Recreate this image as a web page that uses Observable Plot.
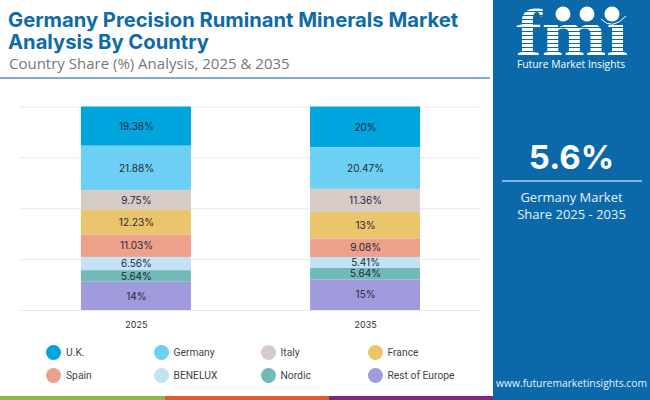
<!DOCTYPE html>
<html>
<head>
<meta charset="utf-8">
<script src="https://cdn.jsdelivr.net/npm/d3@7"></script>
<script src="https://cdn.jsdelivr.net/npm/@observablehq/plot@0.6"></script>
<style>
  html, body { margin: 0; padding: 0; background: #fff; }
  #page { position: relative; width: 650px; height: 400px; overflow: hidden; font-family: Inter, sans-serif; }
  #title { position: absolute; left: 8px; top: 9px; font: 700 20.2px/22px Inter, sans-serif; color: #0f6aa8; white-space: nowrap; }
  #subtitle { position: absolute; left: 9px; top: 53px; font: 400 15px/20px "Open Sans", sans-serif; color: #777; white-space: nowrap; }
  #rule { position: absolute; left: 0; top: 77px; width: 490px; height: 2px; background: #82abcb; }
  #chart { position: absolute; left: 0; top: 90px; }
  #legend { position: absolute; left: 0; top: 0; }
  .key { position: absolute; font: 400 10.3px/14px Roboto, sans-serif; color: #444; white-space: nowrap; }
  .dot { position: absolute; width: 15px; height: 15px; border-radius: 50%; }
  #panel { position: absolute; left: 493px; top: 0; width: 157px; height: 400px; background: #0b69aa; color: #fff; text-align: center; }
  #logo { position: absolute; left: 0; top: 0; }
  #big { position: absolute; left: 0; width: 157px; top: 135px; font: 700 33px/44px Inter, sans-serif; }
  #line { position: absolute; left: 9px; width: 140px; top: 180px; height: 2px; background: #7fb6de; }
  #sub { position: absolute; left: 0; width: 157px; top: 189px; font: 400 13px/17px "Open Sans", sans-serif; color: #e8f2f9; }
  #url { position: absolute; left: 0; width: 157px; top: 376px; font: 400 10.3px/14px "Open Sans", sans-serif; color: #e8f2f9; }
  .strip { position: absolute; top: 396px; height: 4px; width: 165px; }
</style>
</head>
<body>
<div id="page">
  <div id="title">Germany Precision Ruminant Minerals Market<br>Analysis By Country</div>
  <div id="subtitle">Country Share (%) Analysis, 2025 &amp; 2035</div>
  <div id="rule"></div>
  <div id="chart"></div>
  <div id="legend"></div>
  <div class="strip" style="left:0;background:#8cbb3f"></div>
  <div class="strip" style="left:165px;background:#e35a27"></div>
  <div class="strip" style="left:329px;background:#7f2a80"></div>
  <div id="panel">
    <svg id="logo" width="157" height="90">
      <defs>
        <pattern id="stripes" width="4" height="4" patternUnits="userSpaceOnUse">
          <rect width="4" height="3" fill="#fff"></rect>
        </pattern>
      </defs>
      <text x="79" y="55" text-anchor="middle" font-family="Liberation Serif" font-weight="700" font-size="66" textLength="112" lengthAdjust="spacingAndGlyphs" fill="url(#stripes)">fmi</text>
      <!-- hides the dot of the i, the globes stand in for it -->
      <rect x="50" y="0" width="107" height="25" fill="#0b69aa"></rect>
      <circle cx="70" cy="14" r="7.5" fill="#fff"></circle>
      <circle cx="94" cy="14" r="7.5" fill="#fff"></circle>
      <circle cx="119" cy="14" r="7.5" fill="#fff"></circle>
      <path d="M108 19 Q119 31 133 16" fill="none" stroke="#fff" stroke-width="1"></path>
      <text x="78" y="68" text-anchor="middle" font-family="Open Sans" font-size="10.3" fill="#fff">Future Market Insights</text>
    </svg>
    <div id="big">5.6%</div>
    <div id="line"></div>
    <div id="sub">Germany Market<br>Share 2025 - 2035</div>
    <div id="url">www.futuremarketinsights.com</div>
  </div>
</div>
<script>
const years = ["2025", "2035"];
const countries = ["U.K.", "Germany", "Italy", "France", "Spain", "BENELUX", "Nordic", "Rest of Europe"];
const colors = ["#00a5de", "#6dcff3", "#d6cbc7", "#ebc56c", "#eda08a", "#c3e3f5", "#71bab8", "#a09bdd"];
const share2025 = [19.38, 21.88, 9.75, 12.23, 11.03, 6.56, 5.64, 14];
const share2035 = [20, 20.47, 11.36, 13, 9.08, 5.41, 5.64, 15];
const gridTicks = [0, 0.25, 0.5, 0.75, 1];

const rows = [];
countries.forEach((c, i) => {
  rows.push({year: years[0], country: c, share: share2025[i], order: i});
  rows.push({year: years[1], country: c, share: share2035[i], order: i});
});

const stack = {
  x: "year",
  y: "share",
  z: "country",
  offset: "normalize",
  order: (d) => -d.order
};

const p = Plot.plot({
  width: 490,
  height: 240,
  marginTop: 16.5,
  marginBottom: 20,
  marginLeft: 20,
  marginRight: 9,
  style: {background: "transparent", fontFamily: "Inter, sans-serif"},
  x: {domain: years, paddingInner: 0.52, paddingOuter: 0.266, round: false, label: null},
  y: {domain: [0, 1], axis: null},
  color: {domain: countries, range: colors},
  marks: [
    Plot.gridY(gridTicks, {stroke: "#e9e9e9", strokeOpacity: 1}),
    Plot.barY(rows, Plot.stackY({...stack, fill: "country"})),
    Plot.text(rows, Plot.stackY({...stack, text: (d) => d.share + "%", fill: "#1d2a3a", fontSize: 10})),
    Plot.axisX({tickSize: 0, tickPadding: 11, fontSize: 9, color: "#333", label: null})
  ]
});
document.getElementById("chart").append(p);

// legend, four columns by two rows
const legend = document.getElementById("legend");
const colX = [46, 153.5, 260.5, 367.5];
const rowY = [345, 367.5];
countries.forEach((c, i) => {
  const x = colX[i % 4], y = rowY[Math.floor(i / 4)];
  const dot = document.createElement("div");
  dot.className = "dot";
  dot.style.cssText = `left:${x}px;top:${y}px;background:${colors[i]}`;
  const key = document.createElement("div");
  key.className = "key";
  key.style.cssText = `left:${x + 20}px;top:${y + 1}px`;
  key.textContent = c;
  legend.append(dot, key);
});
</script>
</body>
</html>
